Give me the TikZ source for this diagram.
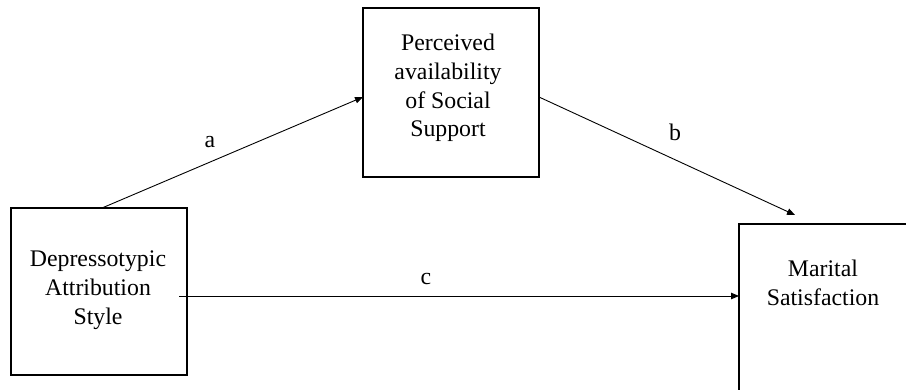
\documentclass[tikz,border=0pt]{standalone}
\usepackage{fontspec}
\setmainfont{Liberation Serif}
\usetikzlibrary{calc,arrows.meta}
\begin{document}
\begin{tikzpicture}[x=1pt,y=-1pt,
  box/.style={draw, line width=2.4pt, inner sep=0pt, outer sep=0pt, rectangle},
  lbl/.style={font=\fontsize{23.8}{28.8}\selectfont, align=center, inner sep=0pt},
  conn/.style={line width=0.9pt, -{Triangle[length=8pt,width=6.5pt]}}]
\useasboundingbox (0,0) rectangle (906,389);
% boxes
\node[box, minimum width=176pt, minimum height=167pt, anchor=north west] (das) at (11,208) {};
\node[box, minimum width=176pt, minimum height=169pt, anchor=north west] (ps) at (363,8) {};
\node[box, minimum width=172pt, minimum height=190pt, anchor=north west] (ms) at (739,224) {};
% texts
\node[lbl] (dast) at (98,290) {Depressotypic\\Attribution\\Style};
\node[lbl] (pst) at (448,88) {Perceived\\availability\\of Social\\Support};
\node[lbl] (mst) at (823,283) {Marital\\Satisfaction};
% connectors
\draw[conn] ($(das.north)+(3,0)$) -- ($(ps.west)+(0,4.5)$);
\draw[conn] ($(ps.east)+(0,4.5)$) -- ($(ms.north west)+(56,-9)$);
\draw[conn] ($(das.east)+(-8,4.5)$) -- ($(ms.north west)+(0,72)$);
% path labels
\node[lbl] (la) at (210,142) {a};
\node[lbl] (lb) at (675,132) {b};
\node[lbl] (lc) at (426,279) {c};
\end{tikzpicture}
\end{document}
